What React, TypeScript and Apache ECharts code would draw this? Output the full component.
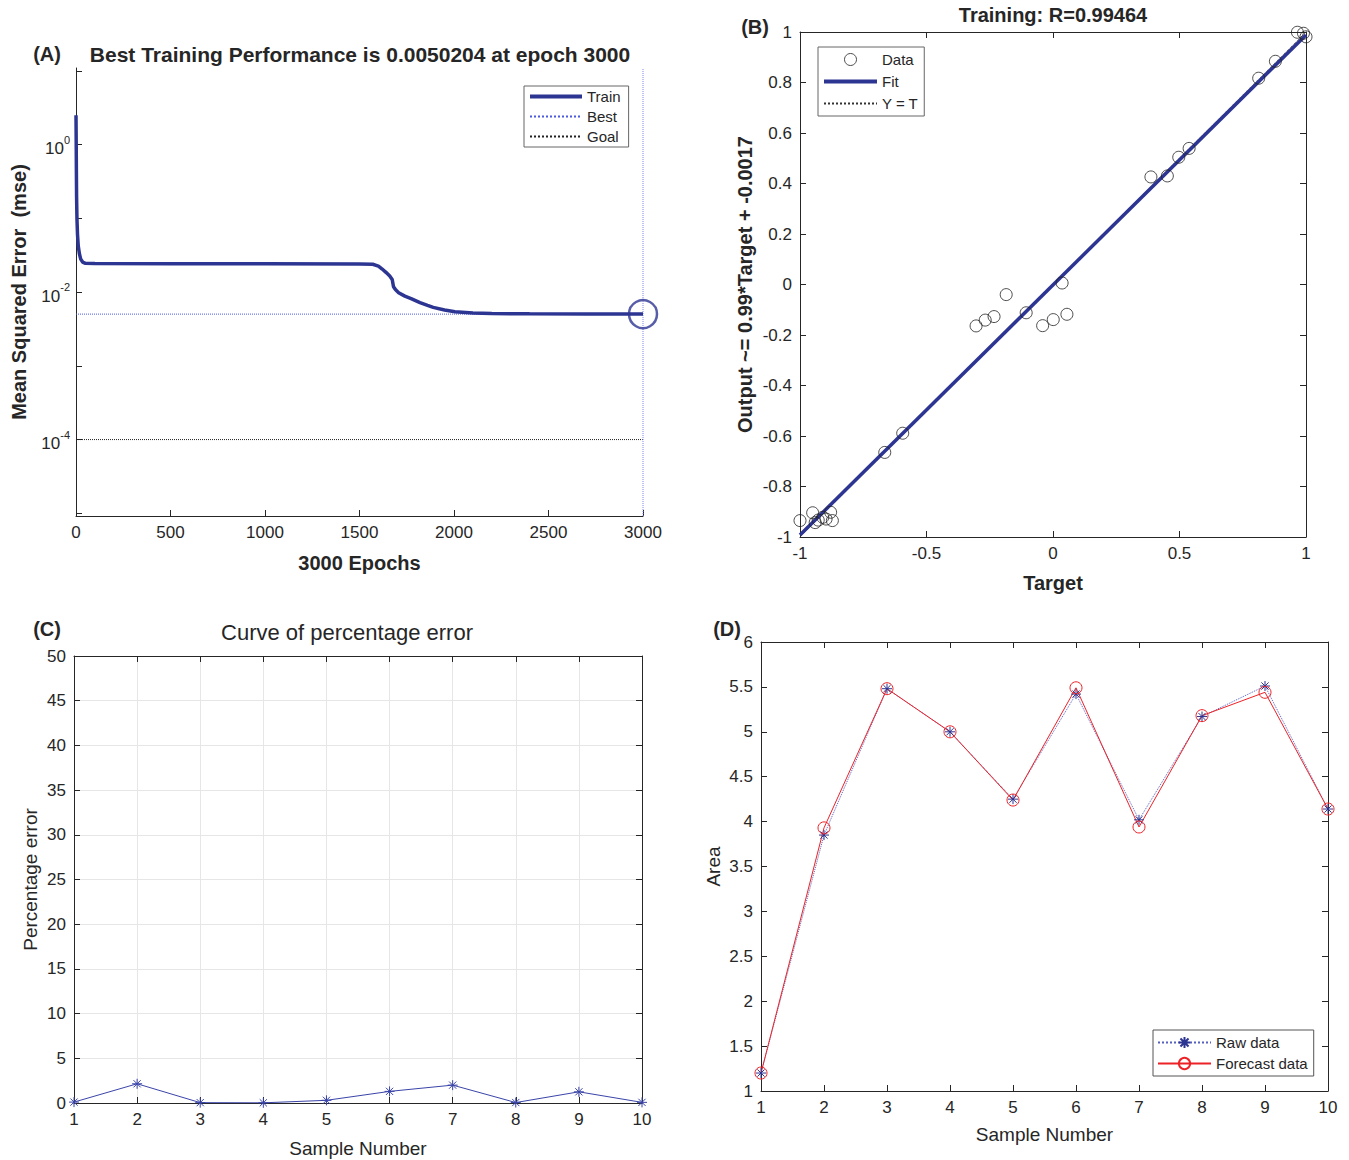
import React, { useEffect, useRef } from "react";
import * as echarts from "echarts";

// ---------- Panel A: training performance ----------
const perfEpochs = [0, 1, 2, 3, 5, 8, 12, 18, 25, 35, 50, 100, 500, 1000, 1500, 1570, 1600, 1620, 1640, 1660, 1673, 1680, 1690, 1707, 1740, 1776, 1820, 1860, 1890, 1950, 2005, 2100, 2200, 2400, 2700, 3000];
const perfMse = [2.5, 1.1, 0.45, 0.2, 0.1, 0.06, 0.042, 0.033, 0.028, 0.0255, 0.0245, 0.0243, 0.0242, 0.0241, 0.024, 0.0238, 0.0225, 0.0205, 0.0185, 0.0165, 0.0148, 0.0118, 0.0108, 0.0098, 0.0088, 0.0081, 0.0072, 0.0066, 0.0062, 0.0057, 0.0054, 0.0052, 0.00512, 0.00506, 0.00503, 0.0050204];
const bestPerf = 0.0050204;
const bestEpoch = 3000;
const goalPerf = 1e-4;
const epochTicks = [0, 3000];
const logRange = [9.2e-6, 10.9];

// ---------- Panel B: regression ----------
const targets = [-1.0, -0.95, -0.94, -0.928, -0.91, -0.897, -0.879, -0.872, -0.665, -0.594, -0.304, -0.268, -0.233, -0.185, -0.106, -0.041, 0.001, 0.036, 0.055, 0.387, 0.452, 0.497, 0.538, 0.813, 0.879, 0.966, 0.99, 1.0];
const outputs = [-0.935, -0.904, -0.943, -0.933, -0.922, -0.929, -0.902, -0.935, -0.665, -0.589, -0.164, -0.141, -0.127, -0.04, -0.112, -0.163, -0.139, 0.006, -0.118, 0.426, 0.43, 0.504, 0.539, 0.817, 0.884, 0.999, 0.995, 0.981];
const fitX = [-1, 1];
const fitY = [-0.9917, 0.9883];
const identX = [-1, 1];
const identY = [-1, 1];

// ---------- Panel C / D ----------
const samples = [1, 2, 3, 4, 5, 6, 7, 8, 9, 10];
const pctError = [0.1, 2.15, 0.04, 0.02, 0.3, 1.3, 2.0, 0.05, 1.25, 0.07];
const rawData = [1.2, 3.85, 5.48, 5.0, 4.25, 5.42, 4.02, 5.17, 5.51, 4.14];
const forecastData = [1.2, 3.93, 5.48, 5.0, 4.24, 5.49, 3.94, 5.18, 5.44, 4.14];

const FONT = '"Liberation Sans", Arial, sans-serif';
const TXT = "#262626";
const AX = "#262626";
const NAVY = "#2d3592";
const STAR = "path://M0,-5L0,5M-5,0L5,0M-3.6,-3.6L3.6,3.6M-3.6,3.6L3.6,-3.6";

const zip = (a: number[], b: number[]) => a.map((v, i) => [v, b[i]]);

function boxAxis(gridIndex: number, position: string, min: number, max: number, interval: number) {
  return {
    type: "value",
    gridIndex,
    position,
    min,
    max,
    interval,
    axisLine: { show: true, onZero: false, lineStyle: { color: AX, width: 1 } },
    axisTick: { show: true, inside: true, length: 6, lineStyle: { color: AX } },
    axisLabel: { show: false },
    splitLine: { show: false },
  };
}

function mainAxis(gridIndex: number, position: string, min: number, max: number, interval: number, name: string, nameGap: number, bold: boolean, grid = false) {
  return {
    type: "value",
    gridIndex,
    position,
    min,
    max,
    interval,
    name,
    nameLocation: "middle",
    nameGap,
    nameTextStyle: { fontSize: bold ? 20 : 19, fontWeight: bold ? "bold" : "normal", color: TXT, fontFamily: FONT },
    axisLine: { show: true, onZero: false, lineStyle: { color: AX, width: 1 } },
    axisTick: { show: true, inside: true, length: 6, lineStyle: { color: AX } },
    axisLabel: { fontSize: 17, color: TXT, fontFamily: FONT, margin: 8, formatter: (v: number) => String(v) },
    splitLine: { show: grid, lineStyle: { color: "#e6e6e6", width: 1 } },
  };
}

const noSym = { opacity: 0 };

export default function App() {
  const ref = useRef<HTMLDivElement>(null);
  useEffect(() => {
    if (!ref.current) return;
    const chart = echarts.init(ref.current, undefined, { renderer: "svg" });
    const legendText = { fontSize: 15, color: TXT, fontFamily: FONT };
    const option: any = {
      animation: false,
      textStyle: { fontFamily: FONT },
      grid: [
        { left: 76, top: 68, width: 567, height: 448 },
        { left: 800, top: 32, width: 506, height: 505 },
        { left: 74, top: 656, width: 568, height: 447 },
        { left: 761, top: 642, width: 567, height: 449 },
      ],
      xAxis: [
        mainAxis(0, "bottom", epochTicks[0], epochTicks[1], 500, "3000 Epochs", 37, true),
        mainAxis(1, "bottom", -1, 1, 0.5, "Target", 36, true),
        boxAxis(1, "top", -1, 1, 0.5),
        mainAxis(2, "bottom", 1, 10, 1, "Sample Number", 36, false, true),
        boxAxis(2, "top", 1, 10, 1),
        mainAxis(3, "bottom", 1, 10, 1, "Sample Number", 34, false),
        boxAxis(3, "top", 1, 10, 1),
      ],
      yAxis: [
        {
          type: "log",
          logBase: 10,
          gridIndex: 0,
          min: logRange[0],
          max: logRange[1],
          splitNumber: 6,
          name: "Mean Squared Error  (mse)",
          nameLocation: "middle",
          nameGap: 47,
          nameTextStyle: { fontSize: 20, fontWeight: "bold", color: TXT, fontFamily: FONT },
          axisLine: { show: true, onZero: false, lineStyle: { color: AX } },
          axisTick: { show: true, inside: true, length: 6, lineStyle: { color: AX } },
          splitLine: { show: false },
          axisLabel: {
            color: TXT,
            margin: 6,
            showMinLabel: false,
            showMaxLabel: false,
            formatter: (v: number) => {
              const l = Math.log10(v);
              const e = Math.round(l);
              if (Math.abs(l - e) > 0.01 || e % 2 !== 0) return "";
              return `{b|10}{s|${e}}`;
            },
            rich: {
              b: { fontSize: 17, color: TXT, fontFamily: FONT, padding: [8, 0, 0, 0] },
              s: { fontSize: 11, color: TXT, fontFamily: FONT, padding: [0, 0, 10, 0] },
            },
          },
        },
        mainAxis(1, "left", -1, 1, 0.2, "Output ~= 0.99*Target + -0.0017", 45, true),
        boxAxis(1, "right", -1, 1, 0.2),
        mainAxis(2, "left", 0, 50, 5, "Percentage error", 34, false, true),
        boxAxis(2, "right", 0, 50, 5),
        mainAxis(3, "left", 1, 6, 0.5, "Area", 38, false),
        boxAxis(3, "right", 1, 6, 0.5),
      ],
      legend: [
        {
          left: 524,
          top: 86,
          orient: "vertical",
          data: [
            { name: "Train", itemStyle: noSym, lineStyle: { width: 4 } },
            { name: "Best", itemStyle: noSym },
            { name: "Goal", itemStyle: noSym },
          ],
          itemWidth: 52,
          itemHeight: 14,
          itemGap: 5,
          padding: [3, 8, 3, 4],
          borderColor: "#666",
          borderWidth: 1,
          backgroundColor: "#fff",
          textStyle: legendText,
          selectedMode: false,
        },
        {
          left: 818,
          top: 47,
          orient: "vertical",
          data: [
            { name: "Data", itemStyle: { color: "transparent", borderColor: "#222", borderWidth: 1 } },
            { name: "Fit", itemStyle: noSym, lineStyle: { width: 4 } },
            { name: "Y = T", itemStyle: noSym },
          ],
          itemWidth: 53,
          itemHeight: 12,
          itemGap: 7,
          padding: [5, 6, 5, 4],
          borderColor: "#666",
          borderWidth: 1,
          backgroundColor: "#fff",
          textStyle: legendText,
          selectedMode: false,
        },
        {
          left: 1153,
          top: 1030,
          orient: "vertical",
          data: ["Raw data", "Forecast data"],
          itemWidth: 53,
          itemHeight: 14,
          itemGap: 6,
          padding: [5, 6, 5, 4],
          borderColor: "#555",
          borderWidth: 1,
          backgroundColor: "#fff",
          textStyle: legendText,
          selectedMode: false,
        },
      ],
      graphic: [
        { type: "text", x: 47, y: 54, style: { text: "(A)", fontSize: 20, fontWeight: "bold", fontFamily: FONT, fill: TXT, align: "center", verticalAlign: "middle" } },
        { type: "text", x: 360, y: 54, style: { text: "Best Training Performance is 0.0050204 at epoch 3000", fontSize: 21, fontWeight: "bold", fontFamily: FONT, fill: TXT, align: "center", verticalAlign: "middle" } },
        { type: "text", x: 755, y: 27, style: { text: "(B)", fontSize: 20, fontWeight: "bold", fontFamily: FONT, fill: TXT, align: "center", verticalAlign: "middle" } },
        { type: "text", x: 1053, y: 15, style: { text: "Training: R=0.99464", fontSize: 20, fontWeight: "bold", fontFamily: FONT, fill: TXT, align: "center", verticalAlign: "middle" } },
        { type: "text", x: 47, y: 629, style: { text: "(C)", fontSize: 20, fontWeight: "bold", fontFamily: FONT, fill: TXT, align: "center", verticalAlign: "middle" } },
        { type: "text", x: 347, y: 632, style: { text: "Curve of percentage error", fontSize: 22, fontFamily: FONT, fill: TXT, align: "center", verticalAlign: "middle" } },
        { type: "text", x: 727, y: 629, style: { text: "(D)", fontSize: 20, fontWeight: "bold", fontFamily: FONT, fill: TXT, align: "center", verticalAlign: "middle" } },
      ],
      series: [
        // Panel A
        {
          name: "Goal",
          type: "line",
          xAxisIndex: 0,
          yAxisIndex: 0,
          data: [[epochTicks[0], goalPerf], [epochTicks[1], goalPerf]],
          symbol: "none",
          lineStyle: { color: "#222", width: 1, type: "dotted" },
          itemStyle: { color: "#222" },
        },
        {
          name: "Best",
          type: "line",
          xAxisIndex: 0,
          yAxisIndex: 0,
          data: [[epochTicks[0], bestPerf], [bestEpoch, bestPerf]],
          symbol: "none",
          lineStyle: { color: "#4b5be0", width: 1, type: "dotted" },
          itemStyle: { color: "#4b5be0" },
        },
        {
          name: "BestEpoch",
          type: "line",
          xAxisIndex: 0,
          yAxisIndex: 0,
          data: [[bestEpoch, logRange[0]], [bestEpoch, logRange[1]]],
          symbol: "none",
          lineStyle: { color: "#7d89e6", width: 1, type: "dotted" },
        },
        {
          name: "Train",
          type: "line",
          xAxisIndex: 0,
          yAxisIndex: 0,
          data: zip(perfEpochs, perfMse),
          symbol: "none",
          lineStyle: { color: NAVY, width: 3.5 },
          itemStyle: { color: NAVY },
        },
        {
          name: "BestPoint",
          type: "scatter",
          xAxisIndex: 0,
          yAxisIndex: 0,
          data: [[bestEpoch, bestPerf]],
          symbol: "circle",
          symbolSize: 28,
          itemStyle: { color: "transparent", borderColor: NAVY, borderWidth: 2.5 },
          z: 5,
        },
        // Panel B
        {
          name: "Y = T",
          type: "line",
          xAxisIndex: 1,
          yAxisIndex: 1,
          data: zip(identX, identY),
          symbol: "none",
          lineStyle: { color: "#333", width: 1, type: "dotted" },
          itemStyle: { color: "#333" },
        },
        {
          name: "Fit",
          type: "line",
          xAxisIndex: 1,
          yAxisIndex: 1,
          data: zip(fitX, fitY),
          symbol: "none",
          lineStyle: { color: NAVY, width: 3.5 },
          itemStyle: { color: NAVY },
        },
        {
          name: "Data",
          type: "scatter",
          xAxisIndex: 1,
          yAxisIndex: 1,
          data: zip(targets, outputs),
          symbol: "circle",
          symbolSize: 12,
          itemStyle: { color: "transparent", borderColor: "#222", borderWidth: 1 },
          z: 5,
        },
        // Panel C
        {
          name: "Percentage error",
          type: "line",
          xAxisIndex: 3,
          yAxisIndex: 3,
          data: zip(samples, pctError),
          symbol: STAR,
          symbolSize: 10,
          lineStyle: { color: "#3a44a8", width: 1 },
          itemStyle: { color: "#3a44a8", borderColor: "#3a44a8", borderWidth: 1 },
        },
        // Panel D
        {
          name: "Raw data",
          type: "line",
          xAxisIndex: 5,
          yAxisIndex: 5,
          data: zip(samples, rawData),
          symbol: STAR,
          symbolSize: 10,
          lineStyle: { color: "#5560c0", width: 1, type: "dotted" },
          itemStyle: { color: "#2d3592", borderColor: "#2d3592", borderWidth: 1 },
        },
        {
          name: "Forecast data",
          type: "line",
          xAxisIndex: 5,
          yAxisIndex: 5,
          data: zip(samples, forecastData),
          symbol: "circle",
          symbolSize: 12,
          lineStyle: { color: "#ec2227", width: 1 },
          itemStyle: { color: "transparent", borderColor: "#ec2227", borderWidth: 1 },
        },
      ],
    };
    chart.setOption(option);
    return () => chart.dispose();
  }, []);
  return <div ref={ref} style={{ position: "absolute", left: 0, top: 0, width: 1349, height: 1160, background: "#fff" }} />;
}
